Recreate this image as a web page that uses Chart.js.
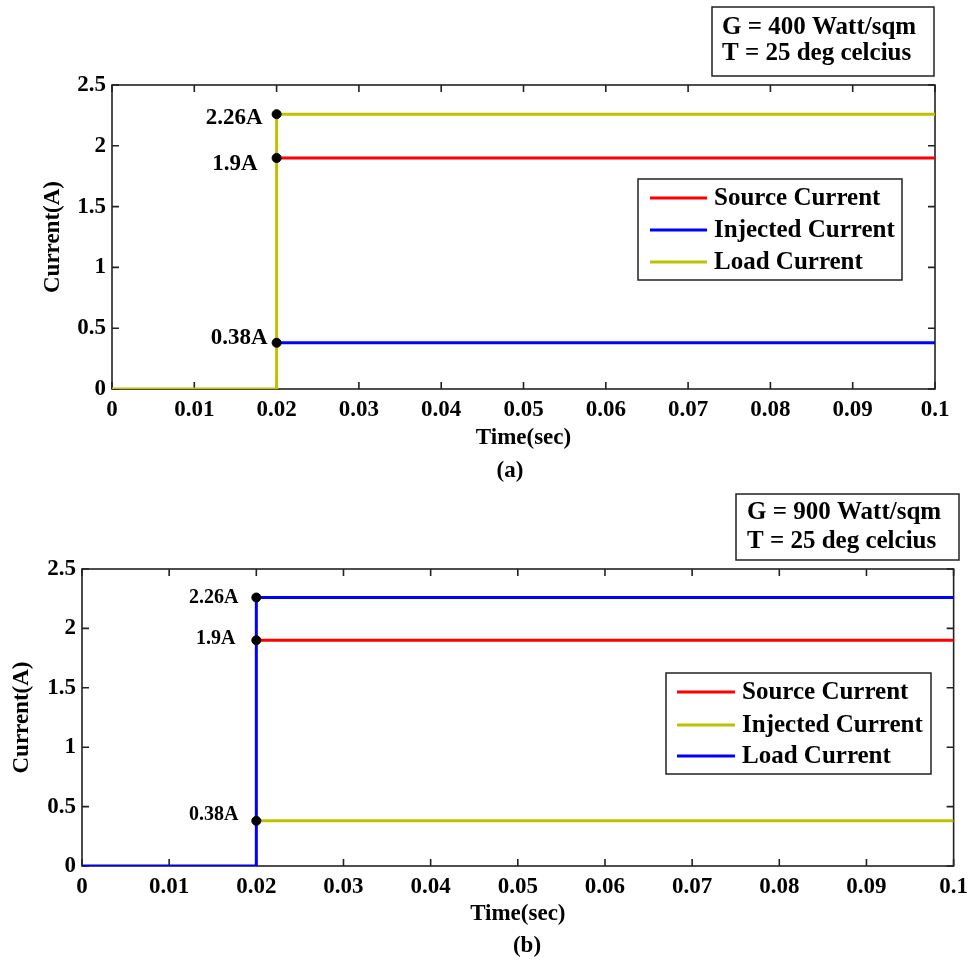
<!DOCTYPE html>
<html>
<head>
<meta charset="utf-8">
<title>Current vs time</title>
<script src="https://cdn.jsdelivr.net/npm/chart.js@4.4.0/dist/chart.umd.min.js"></script>
<style>
  html, body { margin: 0; padding: 0; background: #fff; }
  #wrap { position: relative; width: 975px; height: 964px; }
  canvas { position: absolute; left: 0; }
  .caption {
    position: absolute;
    font: bold 23px "Liberation Serif", "Times New Roman", serif;
    color: #000;
    transform: translate(-50%, -50%);
  }
</style>
</head>
<body>
<div id="wrap">
  <canvas id="chartA" width="975" height="480" style="top:0"></canvas>
  <canvas id="chartB" width="975" height="484" style="top:480px"></canvas>
  <div class="caption" style="left:510px; top:470px">(a)</div>
  <div class="caption" style="left:527px; top:945px">(b)</div>
</div>
<script>
// load current steps up at 0.02 s, the other two start there
const loadTime = [0, 0.02, 0.02, 0.1];
const loadCurrent = [0, 0, 2.26, 2.26];
const afterStepTime = [0.02, 0.1];
const sourceCurrent = [1.9, 1.9];
const injectedCurrent = [0.38, 0.38];

// marked values at the step
const markerTime = [0.02, 0.02, 0.02];
const markerValues = [2.26, 1.9, 0.38];
const markerLabels = ["2.26A", "1.9A", "0.38A"];

const seriesNames = ["Source Current", "Injected Current", "Load Current"];
const xTicks = [0, 0.01, 0.02, 0.03, 0.04, 0.05, 0.06, 0.07, 0.08, 0.09, 0.1];
const yTicks = [0, 0.5, 1, 1.5, 2, 2.5];

const infoA = ["G = 400 Watt/sqm", "T = 25 deg celcius"];
const infoB = ["G = 900 Watt/sqm", "T = 25 deg celcius"];

const RED = "#ff0000";
const BLUE = "#0000ff";
const OLIVE = "#c0c000";
const FONT = "'Liberation Serif', 'Times New Roman', serif";

Chart.defaults.font.family = FONT;
Chart.defaults.font.weight = "bold";
Chart.defaults.color = "#000";

function pts(xs, ys) {
    return xs.map((x, i) => ({ x: x, y: ys[i] }));
}

function fmt(v) {
    return String(parseFloat(Number(v).toFixed(2)));
}

// matlab style box with inward ticks on all four sides
const frame = {
    id: "frame",
    beforeDatasetsDraw(chart) {
        const { ctx, chartArea: a, scales } = chart;
        const tl = 7;
        ctx.save();
        ctx.strokeStyle = "#222";
        ctx.lineWidth = 1.6;
        ctx.strokeRect(a.left, a.top, a.width, a.height);
        ctx.beginPath();
        scales.x.ticks.forEach(t => {
            const px = scales.x.getPixelForValue(t.value);
            ctx.moveTo(px, a.bottom); ctx.lineTo(px, a.bottom - tl);
            ctx.moveTo(px, a.top); ctx.lineTo(px, a.top + tl);
        });
        scales.y.ticks.forEach(t => {
            const py = scales.y.getPixelForValue(t.value);
            ctx.moveTo(a.left, py); ctx.lineTo(a.left + tl, py);
            ctx.moveTo(a.right, py); ctx.lineTo(a.right - tl, py);
        });
        ctx.stroke();
        ctx.restore();
    }
};

// value labels, legend and the info box
const notes = {
    id: "notes",
    afterDatasetsDraw(chart, args, o) {
        const { ctx, scales: { x, y } } = chart;
        ctx.save();
        ctx.fillStyle = "#000";
        ctx.font = "bold " + o.labelSize + "px " + FONT;
        ctx.textAlign = "right";
        ctx.textBaseline = "middle";
        markerLabels.forEach((txt, i) => {
            const px = x.getPixelForValue(markerTime[i]);
            const py = y.getPixelForValue(markerValues[i]);
            ctx.fillText(txt, px - o.labelGap[i], py + o.labelDy[i]);
        });
        ctx.restore();
    },
    afterDraw(chart, args, o) {
        const ctx = chart.ctx;
        ctx.save();
        ctx.strokeStyle = "#222";
        ctx.lineWidth = 1.5;

        // legend
        const L = o.legend;
        ctx.fillStyle = "#fff";
        ctx.fillRect(L.x, L.y, L.w, L.h);
        ctx.strokeRect(L.x, L.y, L.w, L.h);
        ctx.font = "bold 25px " + FONT;
        ctx.textAlign = "left";
        ctx.textBaseline = "middle";
        chart.data.datasets.slice(0, 3).forEach((ds, i) => {
            const ry = L.rows[i];
            ctx.strokeStyle = ds.borderColor;
            ctx.lineWidth = 3;
            ctx.beginPath();
            ctx.moveTo(L.lineX0, ry);
            ctx.lineTo(L.lineX1, ry);
            ctx.stroke();
            ctx.fillStyle = "#000";
            ctx.fillText(ds.label, L.textX, ry + 1);
        });

        // info box
        const B = o.info;
        ctx.strokeStyle = "#222";
        ctx.lineWidth = 1.5;
        ctx.fillStyle = "#fff";
        ctx.fillRect(B.x, B.y, B.w, B.h);
        ctx.strokeRect(B.x, B.y, B.w, B.h);
        ctx.fillStyle = "#000";
        B.lines.forEach((txt, i) => ctx.fillText(txt, B.textX, B.rows[i]));
        ctx.restore();
    }
};

function buildChart(id, p) {
    const ctx = document.getElementById(id).getContext("2d");
    return new Chart(ctx, {
        type: "line",
        data: {
            datasets: [
                { label: seriesNames[0], data: pts(afterStepTime, sourceCurrent), borderColor: p.colors[0], order: 2 },
                { label: seriesNames[1], data: pts(afterStepTime, injectedCurrent), borderColor: p.colors[1], order: 2 },
                { label: seriesNames[2], data: pts(loadTime, loadCurrent), borderColor: p.colors[2], order: 1 },
                {
                    label: "markers",
                    data: pts(markerTime, markerValues),
                    showLine: false,
                    pointRadius: 4.5,
                    pointBackgroundColor: "#000",
                    pointBorderColor: "#000",
                    borderColor: "#000",
                    order: 0
                }
            ]
        },
        options: {
            responsive: false,
            animation: false,
            layout: { padding: p.padding },
            elements: {
                line: { borderWidth: 3, tension: 0, fill: false },
                point: { radius: 0 }
            },
            plugins: {
                legend: { display: false },
                tooltip: { enabled: false },
                notes: p.notes
            },
            scales: {
                x: {
                    type: "linear",
                    min: 0,
                    max: 0.1,
                    grid: { display: false, drawTicks: false },
                    border: { display: false },
                    afterBuildTicks: s => { s.ticks = xTicks.map(v => ({ value: v })); },
                    afterFit: s => { s.height = p.xAxisHeight; },
                    ticks: {
                        padding: 7,
                        color: "#000",
                        font: { size: 23 },
                        maxRotation: 0,
                        autoSkip: false,
                        callback: v => fmt(v)
                    },
                    title: { display: true, text: "Time(sec)", color: "#000", font: { size: 23 }, padding: 0 }
                },
                y: {
                    type: "linear",
                    min: 0,
                    max: 2.5,
                    grid: { display: false, drawTicks: false },
                    border: { display: false },
                    afterBuildTicks: s => { s.ticks = yTicks.map(v => ({ value: v })); },
                    afterFit: s => { s.width = p.yAxisWidth; },
                    ticks: {
                        padding: 6,
                        color: "#000",
                        font: { size: 23 },
                        callback: v => fmt(v)
                    },
                    title: { display: true, text: "Current(A)", color: "#000", font: { size: 23 }, padding: 0 }
                }
            }
        },
        plugins: [frame, notes]
    });
}

buildChart("chartA", {
    colors: [RED, BLUE, OLIVE],
    padding: { top: 85, right: 40, bottom: 28, left: 39 },
    yAxisWidth: 73,
    xAxisHeight: 63,
    notes: {
        labelSize: 23,
        labelGap: [14, 19, 9],
        labelDy: [4, 6, -5],
        legend: { x: 638, y: 179, w: 264, h: 101, rows: [198, 230, 262], lineX0: 650, lineX1: 707, textX: 714 },
        info: { x: 712, y: 7, w: 222, h: 69, rows: [28, 54], textX: 722, lines: infoA }
    }
});

buildChart("chartB", {
    colors: [RED, OLIVE, BLUE],
    padding: { top: 89, right: 17, bottom: 36, left: 8 },
    yAxisWidth: 74,
    xAxisHeight: 62,
    notes: {
        labelSize: 20,
        labelGap: [18, 21, 18],
        labelDy: [0, -1, -6],
        legend: { x: 666, y: 193, w: 265, h: 101, rows: [212, 245, 276], lineX0: 677, lineX1: 735, textX: 742 },
        info: { x: 736, y: 14, w: 223, h: 66, rows: [33, 62], textX: 747, lines: infoB }
    }
});
</script>
</body>
</html>
